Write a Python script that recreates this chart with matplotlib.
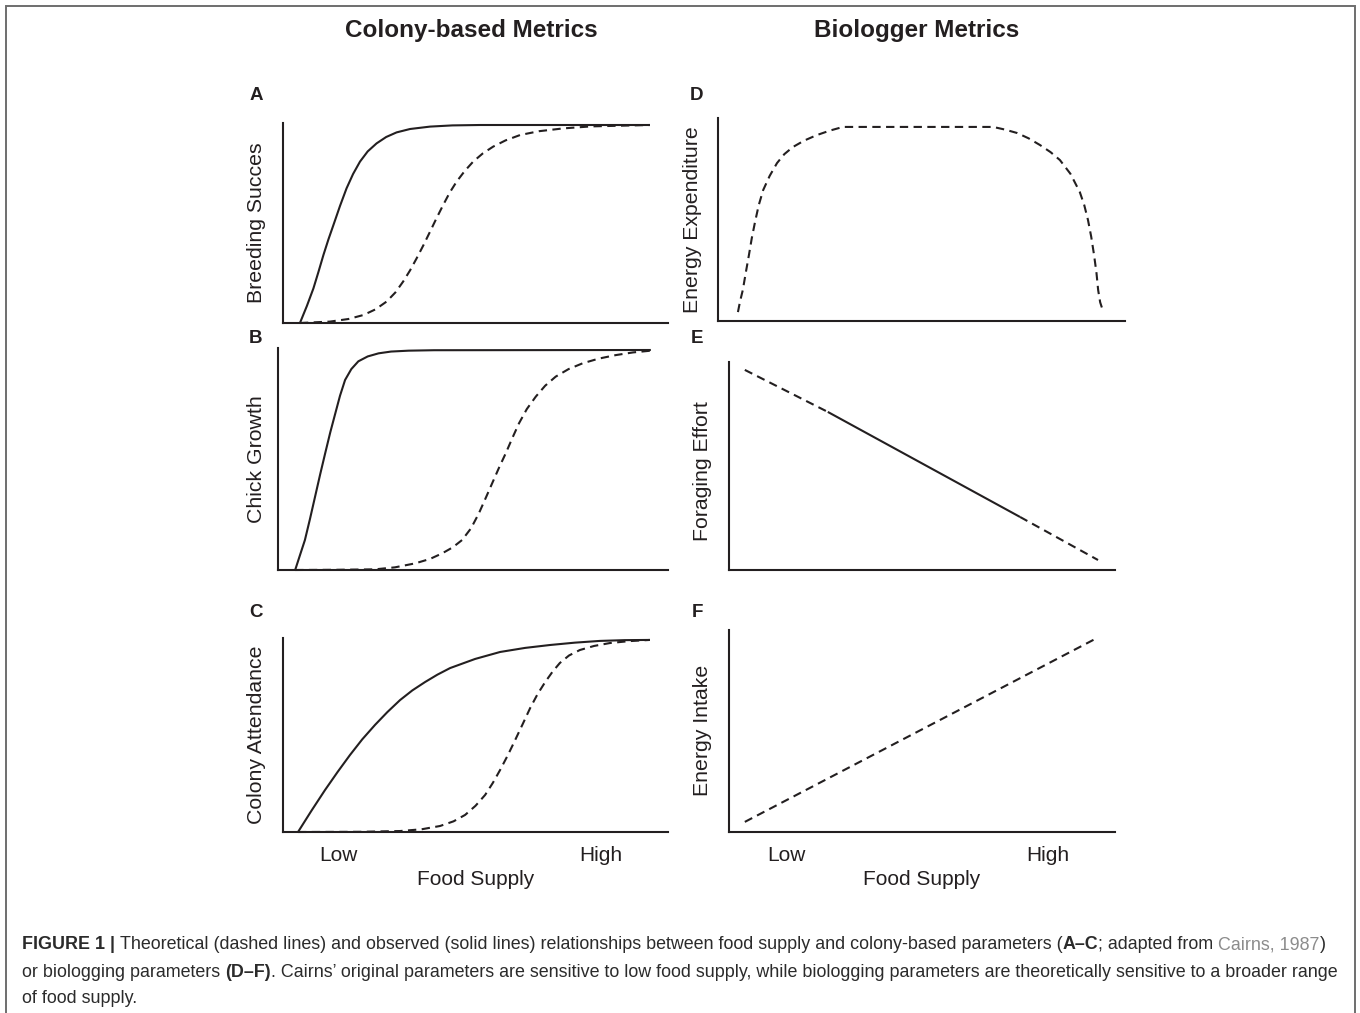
import matplotlib
matplotlib.use('Agg')
import matplotlib.pyplot as plt
from matplotlib.patches import Rectangle

# ---------------- data (food supply 0-100, response 0-100) ----------------
a_solid_x = [4.4, 6.2, 7.9, 9.2, 10.5, 11.8, 13.1, 14.8, 16.5, 18.2, 20.0, 22.0, 24.3, 26.8,
             29.5, 33.0, 38.2, 44.0, 51.2, 95.3]
a_solid_y = [0.0, 8.5, 17.3, 25.5, 34.0, 41.8, 49.0, 58.5, 67.3, 74.5, 80.7, 85.8, 89.8, 93.0,
             95.3, 97.0, 98.2, 98.8, 99.0, 99.0]
a_dash_x = [4.4, 12.2, 17.0, 20.9, 24.0, 26.9, 29.2, 31.2, 33.0, 34.7, 36.5, 38.2, 39.9, 41.6,
            43.3, 45.1, 47.2, 49.4, 51.9, 54.6, 57.8, 61.6, 66.5, 72.8, 80.0, 95.3]
a_dash_y = [0.0, 0.7, 2.0, 4.0, 6.8, 10.7, 15.3, 20.7, 26.3, 32.3, 39.0, 45.7, 52.5, 59.0,
            65.2, 70.7, 76.0, 80.7, 84.8, 88.2, 91.3, 94.0, 95.9, 97.3, 98.3, 99.0]

b_solid_x = [4.4, 5.6, 6.9, 8.2, 9.5, 10.8, 12.1, 13.4, 14.7, 15.9, 17.2, 18.8, 20.6, 23.0,
             25.8, 29.0, 33.5, 40.0, 95.6]
b_solid_y = [0.0, 6.5, 13.5, 23.0, 33.0, 43.0, 52.6, 62.0, 70.6, 78.5, 85.6, 90.5, 94.0, 96.2,
             97.6, 98.4, 98.8, 99.0, 99.1]
b_dash_x = [4.4, 15.0, 24.9, 30.0, 35.2, 39.0, 42.1, 44.8, 47.2, 49.5, 51.5, 53.2, 54.9, 56.6,
            58.4, 60.1, 61.8, 63.8, 66.1, 68.5, 71.2, 74.5, 78.1, 82.2, 86.6, 91.0, 95.6]
b_dash_y = [0.0, 0.1, 0.3, 1.2, 3.0, 5.0, 7.5, 10.2, 13.5, 18.8, 25.5, 32.2, 39.0, 45.8,
            52.6, 59.5, 66.1, 72.5, 78.1, 83.0, 87.1, 90.5, 93.1, 95.2, 96.8, 98.0, 98.8]

c_solid_x = [3.9, 7.4, 10.9, 14.2, 17.4, 20.6, 23.9, 27.1, 30.4, 33.6, 36.9, 40.1, 43.4, 49.9,
             56.4, 62.9, 69.4, 75.8, 82.3, 88.8, 95.3]
c_solid_y = [0.0, 11.0, 21.6, 31.0, 39.7, 47.8, 55.2, 61.8, 68.0, 73.0, 77.3, 81.1, 84.5, 89.2,
             92.8, 94.9, 96.4, 97.6, 98.5, 98.9, 99.0]
c_dash_x = [3.9, 20.0, 30.4, 36.0, 40.8, 44.3, 47.3, 50.0, 52.5, 54.5, 56.4, 58.4, 60.3, 62.3,
            64.2, 66.1, 68.1, 70.0, 71.9, 74.3, 77.1, 80.8, 84.9, 90.0, 95.3]
c_dash_y = [0.0, 0.1, 0.5, 1.4, 3.1, 5.5, 8.8, 13.5, 19.1, 25.3, 32.0, 39.6, 47.4, 55.8,
            63.9, 71.0, 77.3, 82.6, 87.1, 91.0, 93.8, 95.9, 97.4, 98.4, 99.0]

d_dash_x = [4.9, 5.4, 6.1, 6.8, 7.6, 8.3, 9.1, 10.0, 11.1, 12.7, 14.5, 16.3, 18.4, 21.2, 24.3,
            27.5, 30.7, 67.6, 70.5, 73.5, 76.3, 79.1, 81.7, 84.0, 86.6, 88.9, 90.0, 90.9, 91.7,
            92.4, 93.0, 93.4, 93.9, 94.6]
d_dash_y = [4.4, 9.5, 15.3, 23.5, 32.5, 40.8, 48.8, 57.0, 64.5, 71.5, 77.8, 82.2, 85.7, 88.9, 91.6,
            93.8, 95.6, 95.6, 94.3, 92.6, 90.0, 86.7, 83.2, 79.3, 72.5, 63.5, 57.0, 49.8, 41.5,
            32.5, 23.5, 15.3, 9.2, 4.9]

e_x = [4.1, 25.6, 75.4, 95.6]
e_y = [96.2, 76.0, 25.5, 4.8]

f_dash_x = [4.1, 95.3]
f_dash_y = [5.0, 96.0]

tick_labels = ["Low", "High"]
c_tick_pos = [14.5, 82.6]
f_tick_pos = [14.8, 82.6]
x_title = "Food Supply"
panel_letters = ["A", "B", "C", "D", "E", "F"]
y_titles = ["Breeding Succes", "Chick Growth", "Colony Attendance",
            "Energy Expenditure", "Foraging Effort", "Energy Intake"]
col_titles = ["Colony-based Metrics", "Biologger Metrics"]

# ---------------- figure ----------------
plt.rcParams['font.family'] = ['Liberation Sans', 'DejaVu Sans']
INK = '#231f20'
W, H = 1360, 1013
fig = plt.figure(figsize=(W / 100, H / 100), dpi=100)
fig.patch.set_facecolor('white')

# outer frame
fig.add_artist(Rectangle((6 / W, -0.02), (1355 - 6) / W, 1 - 6 / H + 0.02,
                         transform=fig.transFigure, fill=False,
                         edgecolor='#6e6e6e', linewidth=1.4))


def px_axes(l, t, r, b):
    ax = fig.add_axes([l / W, 1 - b / H, (r - l) / W, (b - t) / H])
    ax.set_xlim(0, 100)
    ax.set_ylim(0, 100)
    for s in ['top', 'right']:
        ax.spines[s].set_visible(False)
    for s in ['left', 'bottom']:
        ax.spines[s].set_linewidth(1.5)
        ax.spines[s].set_color(INK)
    ax.set_xticks([])
    ax.set_yticks([])
    return ax


rects = [(283, 123, 668, 323), (278, 348, 668, 570), (283, 638, 668, 832),
         (718, 118, 1125, 321), (729, 362, 1115, 570), (729, 630, 1115, 832)]
axes = [px_axes(*r) for r in rects]

LW = 1.5
DASH = (0, (4, 2.6))
solid_kw = dict(color=INK, lw=LW, solid_capstyle='butt', solid_joinstyle='round', clip_on=False)
dash_kw = dict(color=INK, lw=LW, linestyle=DASH, dash_capstyle='butt', dash_joinstyle='round',
               clip_on=False)

axA, axB, axC, axD, axE, axF = axes
axA.plot(a_dash_x, a_dash_y, **dash_kw)
axA.plot(a_solid_x, a_solid_y, **solid_kw)
axB.plot(b_dash_x, b_dash_y, **dash_kw)
axB.plot(b_solid_x, b_solid_y, **solid_kw)
axC.plot(c_dash_x, c_dash_y, **dash_kw)
axC.plot(c_solid_x, c_solid_y, **solid_kw)
axD.plot(d_dash_x, d_dash_y, **dash_kw)
axE.plot(e_x[0:2], e_y[0:2], **dash_kw)
axE.plot(e_x[1:3], e_y[1:3], **solid_kw)
axE.plot(e_x[2:4], e_y[2:4], **dash_kw)
axF.plot(f_dash_x, f_dash_y, **dash_kw)

# y labels
ylab_px = [(256, 223), (256, 459), (256, 735), (692, 219.5), (703, 471), (703, 730)]
for ax, r, lab, (lx, ly) in zip(axes, rects, y_titles, ylab_px):
    l, t, rr, b = r
    ax.set_ylabel(lab, fontsize=15.3, color=INK, va='center')
    ax.yaxis.set_label_coords((lx - l) / (rr - l), (b - ly) / (b - t))

# x ticks and labels
for ax, r, pos in [(axC, rects[2], c_tick_pos), (axF, rects[5], f_tick_pos)]:
    l, t, rr, b = r
    ax.set_xticks(pos)
    ax.set_xticklabels(tick_labels, fontsize=15, color=INK)
    ax.tick_params(axis='x', length=0, pad=10)
    ax.set_xlabel(x_title, fontsize=15, color=INK, va='center')
    ax.xaxis.set_label_coords(0.5, -(879 - b) / (b - t))

# panel letters
letter_px = [(256, 96), (256, 338), (256, 612), (697, 96), (697, 338), (697, 612)]
for let, (x, y) in zip(panel_letters, letter_px):
    fig.text(x / W, 1 - y / H, let, fontsize=13.5, fontweight='bold',
             ha='center', va='center', color=INK)

# column titles
fig.text(471 / W, 1 - 31 / H, col_titles[0], fontsize=17.5, fontweight='bold',
         ha='center', va='center', color=INK)
fig.text(917 / W, 1 - 31 / H, col_titles[1], fontsize=17.5, fontweight='bold',
         ha='center', va='center', color=INK)

# ---------------- caption ----------------
renderer = fig.canvas.get_renderer()
CAP = '#2b2b2b'
GRAY = '#8c8c8c'
caption_lines = [
    [("FIGURE 1 | ", 'bold', CAP),
     ("Theoretical (dashed lines) and observed (solid lines) relationships between food supply and colony-based parameters (", 'normal', CAP),
     ("A–C", 'bold', CAP), ("; adapted from ", 'normal', CAP), ("Cairns, 1987", 'normal', GRAY),
     (")", 'normal', CAP)],
    [("or biologging parameters ", 'normal', CAP), ("(D–F)", 'bold', CAP),
     (". Cairns’ original parameters are sensitive to low food supply, while biologging parameters are theoretically sensitive to a broader range", 'normal', CAP)],
    [("of food supply.", 'normal', CAP)],
]


def adv(s, fs, weight):
    t1 = fig.text(0, 0, s + "x", fontsize=fs, fontweight=weight)
    t2 = fig.text(0, 0, "x", fontsize=fs, fontweight=weight)
    w = t1.get_window_extent(renderer).width - t2.get_window_extent(renderer).width
    t1.remove()
    t2.remove()
    return w


base_fs = 12
w1 = sum(adv(s, base_fs, wt) for s, wt, c in caption_lines[0])
fs = base_fs * (1309 / w1)
fs = max(10.5, min(fs, 13.5))

baselines = [949, 977, 1003]
for line, yb in zip(caption_lines, baselines):
    x = 22.0
    for s, wt, c in line:
        fig.text(x / W, 1 - yb / H, s, fontsize=fs, fontweight=wt, color=c,
                 ha='left', va='baseline')
        x += adv(s, fs, wt)

fig.savefig('out.png', dpi=100, facecolor='white')
